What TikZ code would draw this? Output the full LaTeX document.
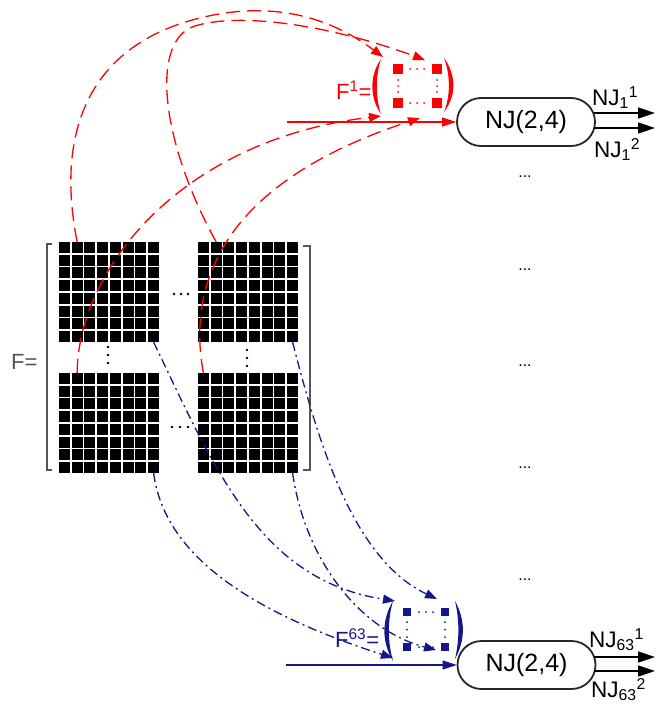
\documentclass[tikz,border=0pt]{standalone}
\usepackage{fontspec}
\setmainfont{Liberation Sans}
\usetikzlibrary{arrows.meta,calc}
\definecolor{fred}{RGB}{255,0,0}
\definecolor{fblue}{RGB}{22,22,140}
\definecolor{bgray}{RGB}{85,85,85}
\begin{document}
\begin{tikzpicture}[x=1pt,y=-1pt,
  cell/.style={fill=black,draw=none,minimum size=11pt,inner sep=0pt,outer sep=0pt},
  redsq/.style={fill=fred,draw=none,minimum size=9.5pt,inner sep=0pt,outer sep=0pt},
  bluesq/.style={fill=fblue,draw=none,minimum size=8.5pt,inner sep=0pt,outer sep=0pt},
  redcurve/.style={fred,line width=1.3pt,dash pattern=on 14pt off 7pt,-{Triangle[length=12pt,width=9pt]}},
  bluecurve/.style={fblue,line width=1.3pt,dash pattern=on 9pt off 4pt on 2pt off 4pt,-{Triangle[length=12pt,width=9pt]}},
  feed/.style={line width=1.3pt,-{Triangle[length=14pt,width=9pt]}},
  outarrow/.style={black,line width=1.6pt,shorten <=-2pt,-{Triangle[length=17pt,width=11pt]}},
  njbox/.style={draw=black!85,line width=1.8pt,rounded corners=24pt,minimum width=138pt,minimum height=48pt,inner sep=0pt,font=\fontsize{25}{28}\selectfont},
  outlabel/.style={anchor=base west,inner sep=0pt,font=\fontsize{22.5}{25}\selectfont},
  vdots/.style={anchor=base,inner sep=0pt,font=\fontsize{16}{18}\selectfont},
  bracket/.style={bgray,line width=1.8pt}
]
\useasboundingbox (0,0) rectangle (668,704);

% the four 8x8 blocks of the big matrix F
\foreach \b/\bx/\by in {tl/58/241,tr/197/241,bl/58/372,br/197/372}{
  \foreach \r in {1,...,8}{
    \foreach \c in {1,...,8}{
      \node[cell] (\b-\r-\c) at ({\bx+12.75*(\c-0.5)},{\by+12.75*(\r-0.5)}) {};
    }
  }
}

% brackets and name of F
\draw[bracket] (52,244) -- (47,244) -- (47,470) -- (52,470);
\draw[bracket] (303,246) -- (310,246) -- (310,470) -- (303,470);
\node[anchor=base west,inner sep=0pt,text=bgray,font=\fontsize{22}{25}\selectfont] (fname) at (11,369) {F=};

% ellipses between the blocks
\foreach \x in {174,181,188} \fill (\x,294) circle (1.3);
\foreach \x in {172,180,188} \fill (\x,427) circle (1.3);
\foreach \y in {347,355,363} \fill (108,\y) circle (1.3);
\foreach \y in {350,358,366} \fill (247,\y) circle (1.3);

% sub-matrix F^1
\node[redsq] (s1a) at (398,69) {};
\node[redsq] (s1b) at (437,69) {};
\node[redsq] (s1c) at (398,103) {};
\node[redsq] (s1d) at (437,103) {};
\foreach \x in {410,417,424} {\fill[fred] (\x,69) circle (1); \fill[fred] (\x,103) circle (1);}
\foreach \y in {80,86,92} {\fill[fred] (398,\y) circle (1); \fill[fred] (437,\y) circle (1);}
\fill[fred] (381,59) .. controls (369.5,75) and (369.5,98) .. (381,114)
            .. controls (375.5,98) and (375.5,75) .. (381,59);
\fill[fred] (444,58) .. controls (456.5,75) and (456.5,96) .. (444,112)
            .. controls (450.5,96) and (450.5,75) .. (444,58);
\node[anchor=base west,inner sep=0pt,text=fred,font=\fontsize{22}{25}\selectfont] (f1name) at (336,99) {F\textsuperscript{1}=};

% sub-matrix F^63
\node[bluesq] (s2a) at (407,612) {};
\node[bluesq] (s2b) at (445,612) {};
\node[bluesq] (s2c) at (407,647) {};
\node[bluesq] (s2d) at (445,647) {};
\foreach \x in {419,426,433} {\fill[fblue] (\x,612) circle (1); \fill[fblue] (\x,647) circle (1);}
\foreach \y in {622,629.5,637} {\fill[fblue] (407,\y) circle (1); \fill[fblue] (445,\y) circle (1);}
\fill[fblue] (393,601) .. controls (381.5,620) and (381.5,642) .. (393,661)
             .. controls (387.5,642) and (387.5,620) .. (393,601);
\fill[fblue] (455,601) .. controls (465.5,620) and (465.5,640) .. (455,659)
             .. controls (459.5,640) and (459.5,620) .. (455,601);
\node[anchor=base west,inner sep=0pt,text=fblue,font=\fontsize{22}{25}\selectfont] (f63name) at (335,647) {F\textsuperscript{63}=};

% NJ blocks
\node[njbox] (nj1) at (526,122) {NJ(2,4)};
\node[njbox] (nj63) at (526.5,665) {NJ(2,4)};

% arrow tips of the element selections
\coordinate (tA) at (383,57);
\coordinate (tB) at (425,60);
\coordinate (tC) at (381,116);
\coordinate (tD) at (420,118);
\coordinate (tE1) at (393,658);
\coordinate (tE2) at (395,601);
\coordinate (tE3) at (436,650);
\coordinate (tE4) at (437,599);

% red selections forming F^1
\draw[redcurve] (tl-1-2.north) .. controls (55,130) and (90,45) .. (200,18)
                .. controls (260,3) and (320,10) .. (tA);
\draw[redcurve] (tr-1-2.north) .. controls (160,140) and (150,40) .. (195,26)
                .. controls (240,12) and (330,25) .. (tB);
\draw[redcurve] (bl-1-2.north) .. controls (78,270) and (180,140) .. (tC);
\draw[redcurve] (br-1-1.north) .. controls (188,290) and (215,185) .. (tD);

% blue selections forming F^63
\draw[bluecurve] (bl-8-8.south) .. controls (165,560) and (260,615) .. (tE1);
\draw[bluecurve] (tl-8-8.south) .. controls (215,470) and (260,580) .. (tE2);
\draw[bluecurve] (br-8-8.south) .. controls (305,560) and (360,630) .. (tE3);
\draw[bluecurve] (tr-8-8.south) .. controls (320,450) and (355,560) .. (tE4);

% inputs of the NJ blocks
\coordinate (rin) at (287,122);
\coordinate (bin) at (286,665);
\draw[feed,fred] (rin) -- (nj1.west);
\draw[feed,fblue] (bin) -- (nj63.west);

% outputs of the NJ blocks
\coordinate (o1a) at (655,113);
\coordinate (o1b) at (655,128);
\coordinate (o2a) at (655,657);
\coordinate (o2b) at (655,671);
\draw[outarrow] (nj1.east |- o1a) -- (o1a);
\draw[outarrow] (nj1.east |- o1b) -- (o1b);
\draw[outarrow] (nj63.east |- o2a) -- (o2a);
\draw[outarrow] (nj63.east |- o2b) -- (o2b);
\node[outlabel] (l11) at (592,105) {NJ\textsubscript{1}\textsuperscript{1}};
\node[outlabel] (l12) at (594,157) {NJ\textsubscript{1}\textsuperscript{2}};
\node[outlabel] (l631) at (589,647) {NJ\textsubscript{63}\textsuperscript{1}};
\node[outlabel] (l632) at (591,697) {NJ\textsubscript{63}\textsuperscript{2}};

% the NJ blocks in between
\foreach \y [count=\i] in {177,270,366,468,580}
  \node[vdots] (mid\i) at (525,\y) {...};
\end{tikzpicture}
\end{document}
